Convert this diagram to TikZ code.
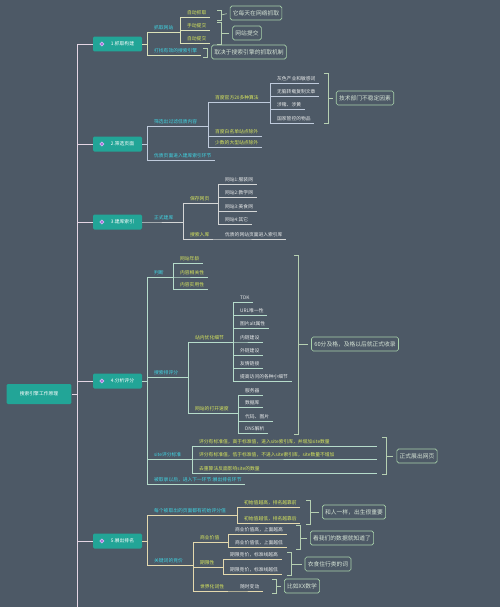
\documentclass[tikz,border=0pt]{standalone}
\usepackage{fontspec}
\setmainfont{Noto Sans CJK SC}
\usetikzlibrary{positioning}
\definecolor{bg}{HTML}{4D5966}
\definecolor{tealbox}{HTML}{22A597}
\definecolor{trunkc}{HTML}{E4D6E4}
\definecolor{cyanc}{HTML}{3FD4E2}
\definecolor{yelc}{HTML}{D8E65C}
\definecolor{leafc}{HTML}{E8EAEA}
\definecolor{boxc}{HTML}{A8D2AA}
\definecolor{boxt}{HTML}{D6E4D6}
\definecolor{brkc}{HTML}{B6D0B2}
\definecolor{linea}{HTML}{DCE2B8}
\definecolor{lineb}{HTML}{BFCBDC}
\definecolor{linec}{HTML}{D4D6D6}
\definecolor{lined}{HTML}{B6DCCB}
\definecolor{linee}{HTML}{E4D9AE}
\definecolor{iconring}{HTML}{CDB8F2}
\definecolor{iconfill}{HTML}{A46CD6}

\begin{document}
\begin{tikzpicture}[x=0.05cm,y=-0.05cm,
  every node/.style={font=\fontsize{6.8}{8}\selectfont},
  root/.style={fill=tealbox,text=white,rounded corners=2pt,minimum width=3.25cm,minimum height=1cm},
  topic/.style={fill=tealbox,text=white,rounded corners=2pt,minimum width=2.45cm,minimum height=0.75cm,
    execute at begin node=\hspace{0.5cm}},
  leaf/.style={anchor=south west,inner xsep=5pt,inner ysep=1pt,text=leafc,
    text height=1.6ex,text depth=0.35ex,execute at begin node=\hspace{5pt}},
  sub/.style={leaf,text=cyanc},
  key/.style={leaf,text=yelc},
  wide/.style={text width=8.9cm},
  sumbox/.style={draw=boxc,line width=0.9pt,rounded corners=2.5pt,text=boxt,inner xsep=4pt,
    minimum height=0.7cm,font=\fontsize{8.2}{9}\selectfont},
  brk/.style={draw=brkc,line width=0.9pt},
  icon/.style={draw=iconring,fill=iconfill,line width=1pt},
  l0/.style={draw=trunkc,line width=1pt},
  l1/.style={draw=linea,line width=0.9pt},
  l2/.style={draw=lineb,line width=0.9pt},
  l3/.style={draw=linec,line width=0.9pt},
  l4/.style={draw=lined,line width=0.9pt},
  l5/.style={draw=linee,line width=0.9pt}]

  \useasboundingbox (0,0) rectangle (500,607);
  \fill[bg] (0,0) rectangle (500,607);

  % root and main topics
  \node[root] (root) at (39,394) {搜索引擎工作原理};
  \node[topic] (b1) at (117.5,44) {1.抓取构建};
  \node[topic] (b2) at (117.5,144) {2.筛选页面};
  \node[topic] (b3) at (117.5,222) {3.建库索引};
  \node[topic] (b4) at (117.5,381) {4.分析评分};
  \node[topic] (b5) at (117.5,541) {5.展出排名};
  \foreach \b in {b1,b2,b3,b4,b5}
    \draw[icon] ([xshift=0.45cm]\b.west) circle (2.8pt);

  \coordinate (t0) at (77,44);
  \coordinate (tail) at (77,607);
  \path[l0]
  (t0) -- (tail)
  (root.east) -- (root.east -| t0)
  (b1.west) -- (b1.west -| t0)
  (b2.west) -- (b2.west -| t0)
  (b3.west) -- (b3.west -| t0)
  (b4.west) -- (b4.west -| t0)
  (b5.west) -- (b5.west -| t0)
  ;

  % 1
  \node[sub] (c11) at (147,32) {抓取网站};
  \node[key] (a1) at (180,17) {自动抓取};
  \node[key] (a2) at (180,30) {手动提交};
  \node[key] (a3) at (180,43) {自动提交};
  \node[sub] (c12) at (147,55) {打找有效的搜索引擎};
  \node[sumbox] (s1) at (256,13) {它每天在网络抓取};
  \node[sumbox] (s2) at (247,33) {网站提交};
  \node[sumbox] (s3) at (249,52) {取决于搜索引擎的抓取机制};

  \path[l1]
  (b1.east) -| (c11.south west) -- (c11.south east)
  (b1.east) -| (c12.south west) -- (c12.south east)
  (c11.south east) -| (a1.south west) -- (a1.south east)
  (c11.south east) -| (a2.south west) -- (a2.south east)
  (c11.south east) -| (a3.south west) -- (a3.south east)
  ;
  \draw[brk] (217,10) -- (221,10) -- (221,20) -- (217,20);
  \draw[brk] (217,22) -- (221,22) -- (221,44) -- (217,44);
  \draw[brk] (203,48) -- (207,48) -- (207,57) -- (203,57);
  \draw[brk,shorten >=1.6mm] (221,15) -- (s1.west);
  \draw[brk,shorten >=1.6mm] (221,33) -- (s2.west);
  \draw[brk,shorten >=1.6mm] (207,52) -- (s3.west);

  % 2
  \node[sub] (c21) at (147,126) {筛选出过滤低质内容};
  \node[key] (d1) at (208,102) {百度官方20多种算法};
  \node[leaf] (e1) at (270,83) {灰色产业和敏感词};
  \node[leaf] (e2) at (270,96) {无脑转载复制文章};
  \node[leaf] (e3) at (270,109) {涉赌、涉黄};
  \node[leaf] (e4) at (270,123) {国家管控的物品};
  \node[key] (d2) at (208,136) {百度白名单站点除外};
  \node[key] (d3) at (208,147) {少数的大型站点除外};
  \node[sub] (c22) at (147,160) {优质页面进入建库索引环节};
  \node[sumbox] (s4) at (365,98) {技术部门不稳定因素};

  \path[l2]
  (b2.east) -| (c21.south west) -- (c21.south east)
  (b2.east) -| (c22.south west) -- (c22.south east)
  (c21.south east) -| (d1.south west) -- (d1.south east)
  (c21.south east) -| (d2.south west) -- (d2.south east)
  (c21.south east) -| (d3.south west) -- (d3.south east)
  (d1.south east) -| (e1.south west) -- (e1.south east)
  (d1.south east) -| (e2.south west) -- (e2.south east)
  (d1.south east) -| (e3.south west) -- (e3.south east)
  (d1.south east) -| (e4.south west) -- (e4.south east)
  ;
  \draw[brk] (324,73) -- (328,73) -- (328,123) -- (324,123);
  \draw[brk,shorten >=1.6mm] (328,98) -- (s4.west);

  % 3
  \node[sub] (c31) at (147,222) {正式建库};
  \node[key] (f1) at (183,203) {保存网页};
  \node[leaf] (g1) at (218,184) {网站1:服装网};
  \node[leaf] (g2) at (218,197) {网站2:教学网};
  \node[leaf] (g3) at (218,211) {网站3:美食网};
  \node[leaf] (g4) at (218,224) {网站4:其它};
  \node[key] (f2) at (183,239) {搜索入库};
  \node[leaf] (g5) at (218,239) {优质的网站页面进入索引库};

  \path[l3]
  (b3.east) -| (c31.south west) -- (c31.south east)
  (c31.south east) -| (f1.south west) -- (f1.south east)
  (c31.south east) -| (f2.south west) -- (f2.south east)
  (f1.south east) -| (g1.south west) -- (g1.south east)
  (f1.south east) -| (g2.south west) -- (g2.south east)
  (f1.south east) -| (g3.south west) -- (g3.south east)
  (f1.south east) -| (g4.south west) -- (g4.south east)
  (f2.south east) -| (g5.south west) -- (g5.south east)
  ;

  % 4
  \node[sub] (c41) at (147,277) {判断};
  \node[key] (h1) at (173,263) {网站年龄};
  \node[key] (h2) at (173,277) {内容相关性};
  \node[key] (h3) at (173,289) {内容实用性};
  \node[sub] (c42) at (147,377) {搜索排评分};
  \node[key] (i1) at (188,342) {站内优化细节};
  \node[leaf] (j1) at (233,302) {TDK};
  \node[leaf] (j2) at (233,315) {URL唯一性};
  \node[leaf] (j3) at (233,328) {图片alt属性};
  \node[leaf] (j4) at (233,342) {内链建设};
  \node[leaf] (j5) at (233,355) {外链建设};
  \node[leaf] (j6) at (233,368) {友情链接};
  \node[leaf] (j7) at (233,381) {提高访问的各种小细节};
  \node[key] (i2) at (188,413) {网站的打开速度};
  \node[leaf] (k1) at (238,395) {服务器};
  \node[leaf] (k2) at (238,407) {数据库};
  \node[leaf] (k3) at (238,421) {代码、图片};
  \node[leaf] (k4) at (238,433) {DNS解析};
  \node[sub] (c43) at (147,459) {site评分标准};
  \node[key,wide] (m1) at (192,446) {评分有标准值，高于标准值，进入site索引库，并增加site数量};
  \node[key,wide] (m2) at (192,459) {评分有标准值，低于标准值，不进入site索引库，site数量不增加};
  \node[key,wide] (m3) at (192,473) {去重算法反面影响site的数量};
  \node[sub] (c44) at (147,484) {被取录以后，进入下一环节:展出排名环节};
  \node[sumbox] (s5) at (355,344) {60分及格，及格以后就正式收录};
  \node[sumbox] (s6) at (417,456) {正式展出网页};

  \path[l4]
  (b4.east) -| (c41.south west) -- (c41.south east)
  (b4.east) -| (c42.south west) -- (c42.south east)
  (b4.east) -| (c43.south west) -- (c43.south east)
  (b4.east) -| (c44.south west) -- (c44.south east)
  (c41.south east) -| (h1.south west) -- (h1.south east)
  (c41.south east) -| (h2.south west) -- (h2.south east)
  (c41.south east) -| (h3.south west) -- (h3.south east)
  (c42.south east) -| (i1.south west) -- (i1.south east)
  (c42.south east) -| (i2.south west) -- (i2.south east)
  (i1.south east) -| (j1.south west) -- (j1.south east)
  (i1.south east) -| (j2.south west) -- (j2.south east)
  (i1.south east) -| (j3.south west) -- (j3.south east)
  (i1.south east) -| (j4.south west) -- (j4.south east)
  (i1.south east) -| (j5.south west) -- (j5.south east)
  (i1.south east) -| (j6.south west) -- (j6.south east)
  (i1.south east) -| (j7.south west) -- (j7.south east)
  (i2.south east) -| (k1.south west) -- (k1.south east)
  (i2.south east) -| (k2.south west) -- (k2.south east)
  (i2.south east) -| (k3.south west) -- (k3.south east)
  (i2.south east) -| (k4.south west) -- (k4.south east)
  (c43.south east) -| (m1.south west) -- (m1.south east)
  (c43.south east) -| (m2.south west) -- (m2.south east)
  (c43.south east) -| (m3.south west) -- (m3.south east)
  ;
  \draw[brk] (294,255) -- (298,255) -- (298,434) -- (294,434);
  \draw[brk] (382,437) -- (386,437) -- (386,474) -- (382,474);
  \draw[brk,shorten >=1.6mm] (298,344) -- (s5.west);
  \draw[brk,shorten >=1.6mm] (386,456) -- (s6.west);

  % 5
  \node[sub] (c51) at (147,515) {每个被取出的页面都有初始评分值};
  \node[key] (n1) at (237,507) {初始值越高，排名越靠前};
  \node[key] (n2) at (237,523) {初始值越低，排名越靠后};
  \node[sub] (c52) at (147,565) {关键词的竞价};
  \node[key] (p1) at (193,542) {商业价值};
  \node[leaf] (q1) at (228,534) {商业价值高，上面越高};
  \node[leaf] (q2) at (228,547) {商业价值低，上面越低};
  \node[key] (p2) at (193,567) {期限性};
  \node[leaf] (q3) at (223,559) {期限竞价，标准线越高};
  \node[leaf] (q4) at (223,574) {期限竞价，标准线越低};
  \node[key] (p3) at (193,591) {世界化词性};
  \node[leaf] (q5) at (233,591) {随时变动};
  \node[sumbox] (s7) at (354,512) {和人一样，出生很重要};
  \node[sumbox] (s8) at (342,538) {看我们的数据就知道了};
  \node[sumbox] (s9) at (328,564) {衣食住行类的词};
  \node[sumbox] (s10) at (302,586) {比如XX数学};

  \path[l5]
  (b5.east) -| (c51.south west) -- (c51.south east)
  (b5.east) -| (c52.south west) -- (c52.south east)
  (c51.south east) -| (n1.south west) -- (n1.south east)
  (c51.south east) -| (n2.south west) -- (n2.south east)
  (c52.south east) -| (p1.south west) -- (p1.south east)
  (c52.south east) -| (p2.south west) -- (p2.south east)
  (c52.south east) -| (p3.south west) -- (p3.south east)
  (p1.south east) -| (q1.south west) -- (q1.south east)
  (p1.south east) -| (q2.south west) -- (q2.south east)
  (p2.south east) -| (q3.south west) -- (q3.south east)
  (p2.south east) -| (q4.south west) -- (q4.south east)
  (p3.south east) -| (q5.south west) -- (q5.south east)
  ;
  \draw[brk] (306,500) -- (310,500) -- (310,524) -- (306,524);
  \draw[brk] (296,525) -- (300,525) -- (300,549) -- (296,549);
  \draw[brk] (287,552) -- (291,552) -- (291,575) -- (287,575);
  \draw[brk] (272,579) -- (276,579) -- (276,593) -- (272,593);
  \draw[brk,shorten >=1.6mm] (310,512) -- (s7.west);
  \draw[brk,shorten >=1.6mm] (300,538) -- (s8.west);
  \draw[brk,shorten >=1.6mm] (291,564) -- (s9.west);
  \draw[brk,shorten >=1.6mm] (276,586) -- (s10.west);
\end{tikzpicture}
\end{document}
